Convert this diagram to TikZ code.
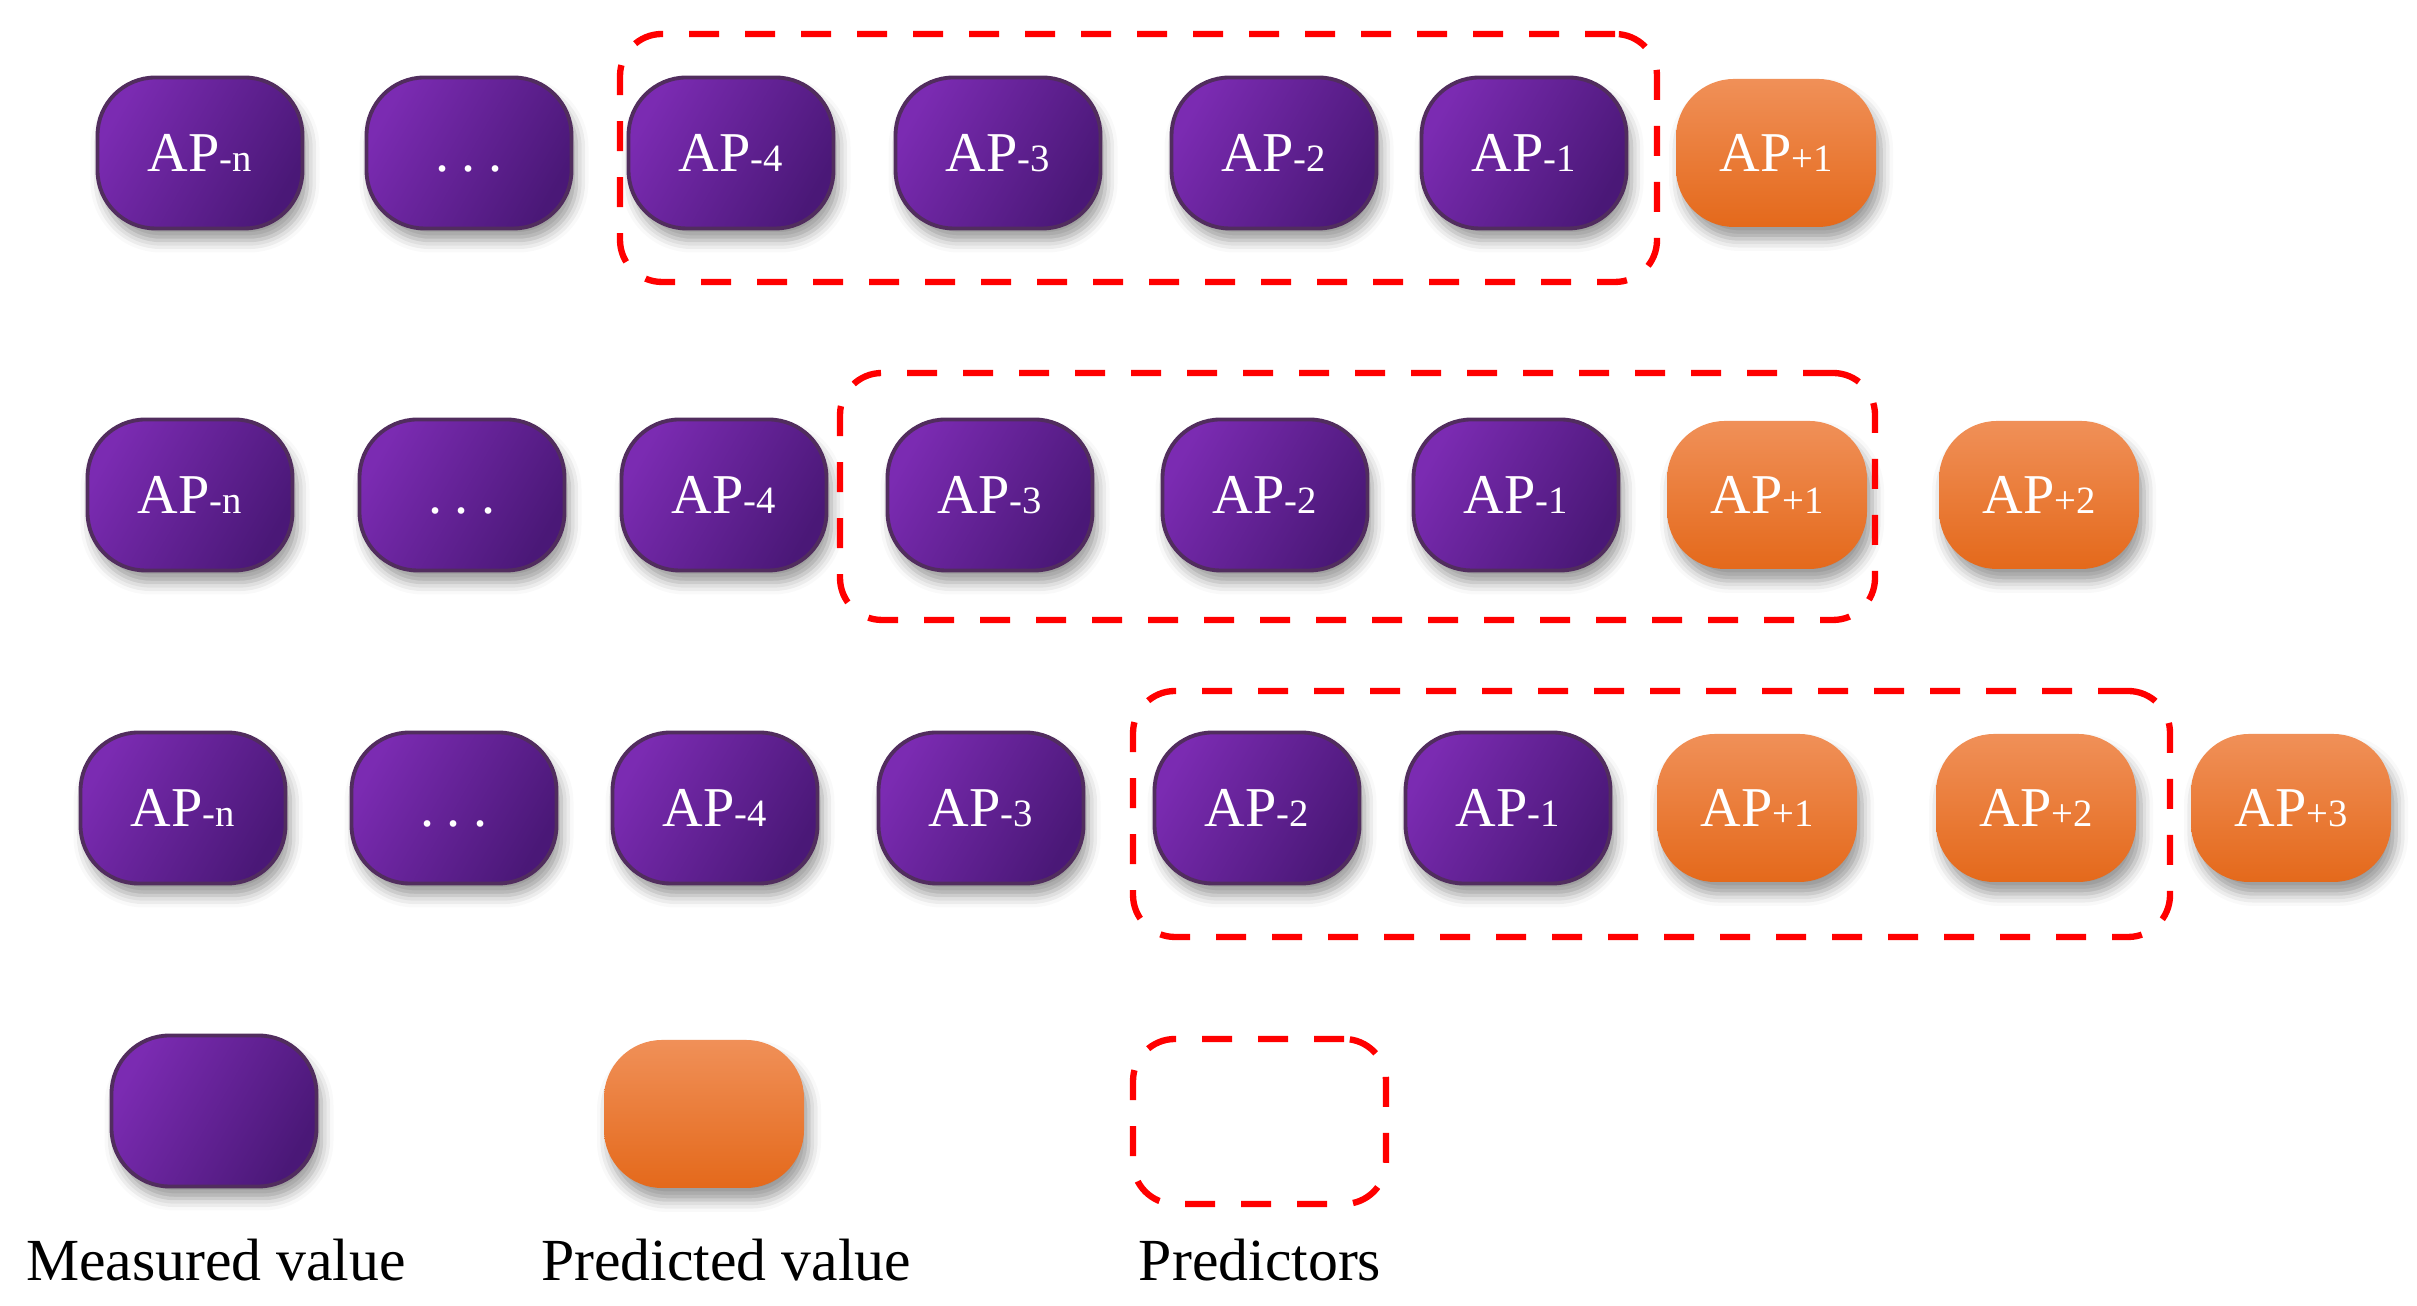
\documentclass[tikz,border=0pt]{standalone}
\usepackage{fontspec}
\setmainfont{Liberation Serif}
\usetikzlibrary{shadows.blur}
\definecolor{measL}{HTML}{7B2BB2}
\definecolor{measD}{HTML}{4A1877}
\definecolor{measRim}{HTML}{512D5E}
\definecolor{predT}{HTML}{F09058}
\definecolor{predB}{HTML}{E4691B}
\definecolor{winRed}{HTML}{FF0000}
\newcommand{\apsub}[1]{AP{\fontsize{11}{11}\selectfont #1}}
\newcommand{\apdots}{\vphantom{AP}.\hspace{0.22em}.\hspace{0.22em}.}

\begin{document}
\begin{tikzpicture}[
  meas/.style={rectangle,rounded corners=0.58cm,draw=measRim,line width=1.1pt,
    left color=measL,right color=measD,shading angle=60,
    minimum width=2.05cm,minimum height=1.51cm,inner sep=0pt,
    text=white,font=\fontsize{16}{16}\selectfont,
    blur shadow={shadow xshift=0.05cm,shadow yshift=-0.12cm,shadow blur radius=0.12cm,shadow opacity=40}},
  pred/.style={rectangle,rounded corners=0.58cm,
    top color=predT,bottom color=predB,
    minimum width=2.0cm,minimum height=1.48cm,inner sep=0pt,
    text=white,font=\fontsize{16}{16}\selectfont,
    blur shadow={shadow xshift=0.05cm,shadow yshift=-0.12cm,shadow blur radius=0.12cm,shadow opacity=40}},
  window/.style={rectangle,rounded corners=0.42cm,draw=winRed,line width=1.8pt,
    dash pattern=on 0.3cm off 0.26cm,inner sep=0pt},
  legend/.style={font=\fontsize{17}{17}\selectfont,anchor=base}]
  \useasboundingbox (0,0) rectangle (24.17,13.06);
  % Row 1: one step ahead.
  \node[meas] (a1) at ( 2.00,11.53) {\apsub{-n}};
  \node[meas] (a2) at ( 4.69,11.53) {\apdots};
  \node[meas] (a3) at ( 7.31,11.53) {\apsub{-4}};
  \node[meas] (a4) at ( 9.98,11.53) {\apsub{-3}};
  \node[meas] (a5) at (12.74,11.53) {\apsub{-2}};
  \node[meas] (a6) at (15.24,11.53) {\apsub{-1}};
  \node[pred] (a7) at (17.76,11.53) {\apsub{+1}};
  \node[window,minimum width=10.37cm,minimum height=2.48cm] (w1) at (11.385,11.48) {};
  % Row 2: the window slides over the first prediction.
  \node[meas] (b1) at ( 1.90, 8.11) {\apsub{-n}};
  \node[meas] (b2) at ( 4.62, 8.11) {\apdots};
  \node[meas] (b3) at ( 7.24, 8.11) {\apsub{-4}};
  \node[meas] (b4) at ( 9.90, 8.11) {\apsub{-3}};
  \node[meas] (b5) at (12.65, 8.11) {\apsub{-2}};
  \node[meas] (b6) at (15.16, 8.11) {\apsub{-1}};
  \node[pred] (b7) at (17.67, 8.11) {\apsub{+1}};
  \node[pred] (b8) at (20.39, 8.11) {\apsub{+2}};
  \node[window,minimum width=10.35cm,minimum height=2.47cm] (w2) at (13.575,8.095) {};
  % Row 3.
  \node[meas] (c1) at ( 1.83, 4.98) {\apsub{-n}};
  \node[meas] (c2) at ( 4.54, 4.98) {\apdots};
  \node[meas] (c3) at ( 7.15, 4.98) {\apsub{-4}};
  \node[meas] (c4) at ( 9.81, 4.98) {\apsub{-3}};
  \node[meas] (c5) at (12.57, 4.98) {\apsub{-2}};
  \node[meas] (c6) at (15.08, 4.98) {\apsub{-1}};
  \node[pred] (c7) at (17.57, 4.98) {\apsub{+1}};
  \node[pred] (c8) at (20.36, 4.98) {\apsub{+2}};
  \node[pred] (c9) at (22.91, 4.98) {\apsub{+3}};
  \node[window,minimum width=10.37cm,minimum height=2.46cm] (w3) at (16.515,4.92) {};
  % Legend.
  \node[meas] (lm) at ( 2.14,1.95) {};
  \node[pred] (lp) at ( 7.04,1.92) {};
  \node[window,minimum width=2.53cm,minimum height=1.65cm] (lw) at (12.595,1.845) {};
  \node[legend] (tm) at ( 2.16,0.25) {Measured value};
  \node[legend] (tp) at ( 7.26,0.25) {Predicted value};
  \node[legend] (tw) at (12.60,0.25) {Predictors};
\end{tikzpicture}
\end{document}
